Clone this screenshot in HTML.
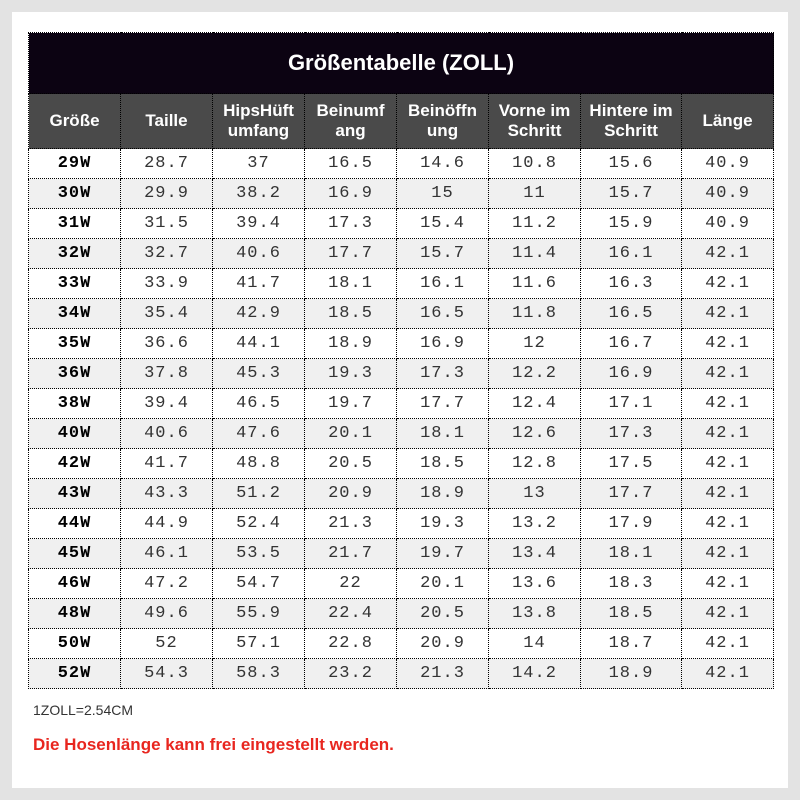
<!DOCTYPE html>
<html><head><meta charset="utf-8"><style>
body{margin:0;width:800px;height:800px;background:#e3e3e3;position:relative;overflow:hidden;font-family:"Liberation Sans",sans-serif}
#w{position:absolute;left:12px;top:12px;width:776px;height:776px;background:#fff}
table{position:absolute;left:28px;top:32px;border-collapse:collapse;table-layout:fixed}
td,th{border:1px dotted #000;text-align:center;padding:0}
th{background:#4a4a4a;color:#fff;font-size:17px;font-weight:bold;height:54px;line-height:20px}
th.t{background:#0c0312;height:60px;font-size:22px}
td{height:29px;font-size:17px;color:#333;font-family:"Liberation Mono","Noto Sans CJK SC",monospace;letter-spacing:1px;background:#fff}
td:first-child{font-weight:bold;color:#000}
tr:nth-child(even) td{background:#f0f0f0}
</style></head><body><div id="w"></div>
<table>
<colgroup><col style="width:92px"><col style="width:92px"><col style="width:92px"><col style="width:92px"><col style="width:92px"><col style="width:92px"><col style="width:101px"><col style="width:92px"></colgroup>
<tr><th class="t" colspan="8">Größentabelle (ZOLL)</th></tr>
<tr><th>Größe</th><th>Taille</th><th>HipsHüft<br>umfang</th><th>Beinumf<br>ang</th><th>Beinöffn<br>ung</th><th>Vorne im<br>Schritt</th><th>Hintere im<br>Schritt</th><th>Länge</th></tr>
<tr><td>29W</td><td>28.7</td><td>37</td><td>16.5</td><td>14.6</td><td>10.8</td><td>15.6</td><td>40.9</td></tr>
<tr><td>30W</td><td>29.9</td><td>38.2</td><td>16.9</td><td>15</td><td>11</td><td>15.7</td><td>40.9</td></tr>
<tr><td>31W</td><td>31.5</td><td>39.4</td><td>17.3</td><td>15.4</td><td>11.2</td><td>15.9</td><td>40.9</td></tr>
<tr><td>32W</td><td>32.7</td><td>40.6</td><td>17.7</td><td>15.7</td><td>11.4</td><td>16.1</td><td>42.1</td></tr>
<tr><td>33W</td><td>33.9</td><td>41.7</td><td>18.1</td><td>16.1</td><td>11.6</td><td>16.3</td><td>42.1</td></tr>
<tr><td>34W</td><td>35.4</td><td>42.9</td><td>18.5</td><td>16.5</td><td>11.8</td><td>16.5</td><td>42.1</td></tr>
<tr><td>35W</td><td>36.6</td><td>44.1</td><td>18.9</td><td>16.9</td><td>12</td><td>16.7</td><td>42.1</td></tr>
<tr><td>36W</td><td>37.8</td><td>45.3</td><td>19.3</td><td>17.3</td><td>12.2</td><td>16.9</td><td>42.1</td></tr>
<tr><td>38W</td><td>39.4</td><td>46.5</td><td>19.7</td><td>17.7</td><td>12.4</td><td>17.1</td><td>42.1</td></tr>
<tr><td>40W</td><td>40.6</td><td>47.6</td><td>20.1</td><td>18.1</td><td>12.6</td><td>17.3</td><td>42.1</td></tr>
<tr><td>42W</td><td>41.7</td><td>48.8</td><td>20.5</td><td>18.5</td><td>12.8</td><td>17.5</td><td>42.1</td></tr>
<tr><td>43W</td><td>43.3</td><td>51.2</td><td>20.9</td><td>18.9</td><td>13</td><td>17.7</td><td>42.1</td></tr>
<tr><td>44W</td><td>44.9</td><td>52.4</td><td>21.3</td><td>19.3</td><td>13.2</td><td>17.9</td><td>42.1</td></tr>
<tr><td>45W</td><td>46.1</td><td>53.5</td><td>21.7</td><td>19.7</td><td>13.4</td><td>18.1</td><td>42.1</td></tr>
<tr><td>46W</td><td>47.2</td><td>54.7</td><td>22</td><td>20.1</td><td>13.6</td><td>18.3</td><td>42.1</td></tr>
<tr><td>48W</td><td>49.6</td><td>55.9</td><td>22.4</td><td>20.5</td><td>13.8</td><td>18.5</td><td>42.1</td></tr>
<tr><td>50W</td><td>52</td><td>57.1</td><td>22.8</td><td>20.9</td><td>14</td><td>18.7</td><td>42.1</td></tr>
<tr><td>52W</td><td>54.3</td><td>58.3</td><td>23.2</td><td>21.3</td><td>14.2</td><td>18.9</td><td>42.1</td></tr>
</table>
<div style="position:absolute;left:33px;top:702px;font-size:14px;color:#333">1ZOLL=2.54CM</div>
<div style="position:absolute;left:33px;top:735px;font-size:17px;font-weight:bold;color:#e8261f">Die Hosenlänge kann frei eingestellt werden.</div>
</body></html>
